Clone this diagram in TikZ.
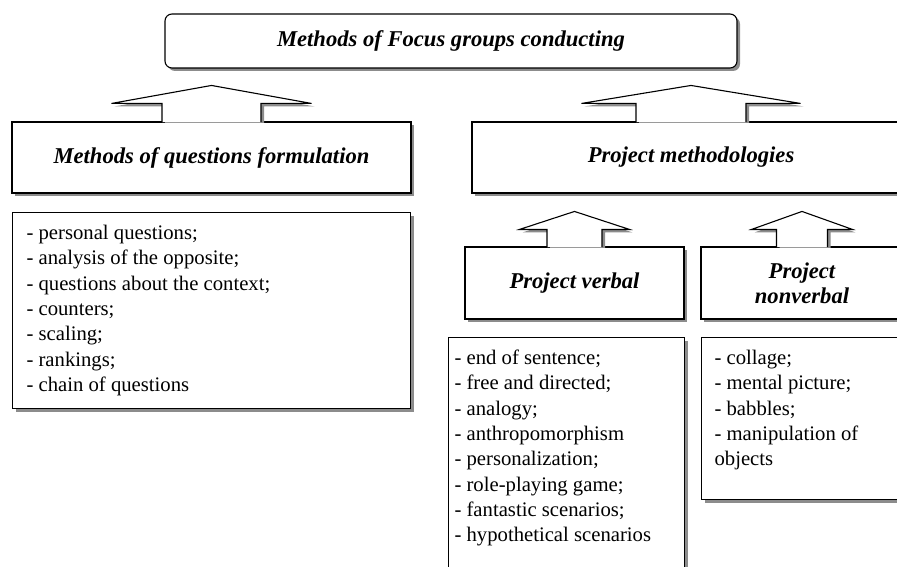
\documentclass[tikz,border=0pt]{standalone}
\usepackage{fontspec}
\setmainfont{Liberation Serif}
\usetikzlibrary{shadows}
\tikzset{
  shadowed/.style={drop shadow={shadow xshift=3pt, shadow yshift=-3pt, fill=black!45, opacity=1}},
  boxline/.style={draw=black, line width=1.1pt, fill=white},
  headbox/.style={boxline, shadowed, rectangle, inner sep=0pt, align=center,
    font=\fontsize{22.6}{25}\selectfont\bfseries\itshape},
  listbox/.style={boxline, shadowed, rectangle, anchor=north west, inner sep=0pt,
    font=\fontsize{20.7}{25.3}\selectfont},
  arrowshape/.style={boxline, shadowed, line join=miter},
}
% #1 width, #2 height, #3 left pad, #4 top pad, #5 text
\newcommand\listtext[5]{\begin{minipage}[t][#2][t]{#1}\vspace*{#4}\raggedright\setlength\leftskip{#3}\setlength\parindent{0pt}\strut #5\end{minipage}}
% #1 node, #2 stem half width, #3 wing half width, #4 stem height, #5 head height
\newcommand\blockarr[5]{%
  \begin{scope}[shift={(#1.north)}]
    \clip (-400,-100) rectangle (400,0.6);
    \path[arrowshape] (-#2,0.6) -- (-#2,-#4) -- (-#3,-#4) -- (0,-#4-#5) -- (#3,-#4) -- (#2,-#4) -- (#2,0.6);
  \end{scope}}
\begin{document}
\begin{tikzpicture}[x=1pt, y=-1pt]
\useasboundingbox (0,0) rectangle (897,567);
\clip (0,0) rectangle (897,567);

\node[headbox, rounded corners=7pt, minimum width=572pt, minimum height=54pt] (top) at (451,41) {Methods of Focus groups conducting};
\node[headbox, minimum width=399pt, minimum height=71pt] (L1) at (211.5,157.5) {Methods of questions formulation};
\node[headbox, minimum width=438pt, minimum height=71pt] (R1) at (691,157.5) {Project methodologies};
\node[headbox, minimum width=219pt, minimum height=72pt] (PV) at (574.5,283) {Project verbal};
\node[headbox, minimum width=202pt, minimum height=72pt] (PN) at (802,283) {Project\\nonverbal};

\node[listbox] (L2) at (12,212) {\listtext{398pt}{196pt}{14pt}{9.3pt}{%
- personal questions;\\
- analysis of the opposite;\\
- questions about the context;\\
- counters;\\
- scaling;\\
- rankings;\\
- chain of questions}};

\node[listbox] (VL) at (448,337) {\listtext{236pt}{260pt}{6pt}{9.3pt}{%
- end of sentence;\\
- free and directed;\\
- analogy;\\
- anthropomorphism\\
- personalization;\\
- role-playing game;\\
- fantastic scenarios;\\
- hypothetical scenarios}};

\node[listbox] (NL) at (701,337) {\listtext{202pt}{162pt}{13pt}{9.3pt}{%
- collage;\\
- mental picture;\\
- babbles;\\
- manipulation of\\
objects}};

\blockarr{L1}{49.5}{100}{18}{18}
\blockarr{R1}{55}{109.5}{18}{18}
\blockarr{PV}{27.5}{55}{17}{18}
\blockarr{PN}{25.5}{50.5}{17}{18}
\end{tikzpicture}
\end{document}
